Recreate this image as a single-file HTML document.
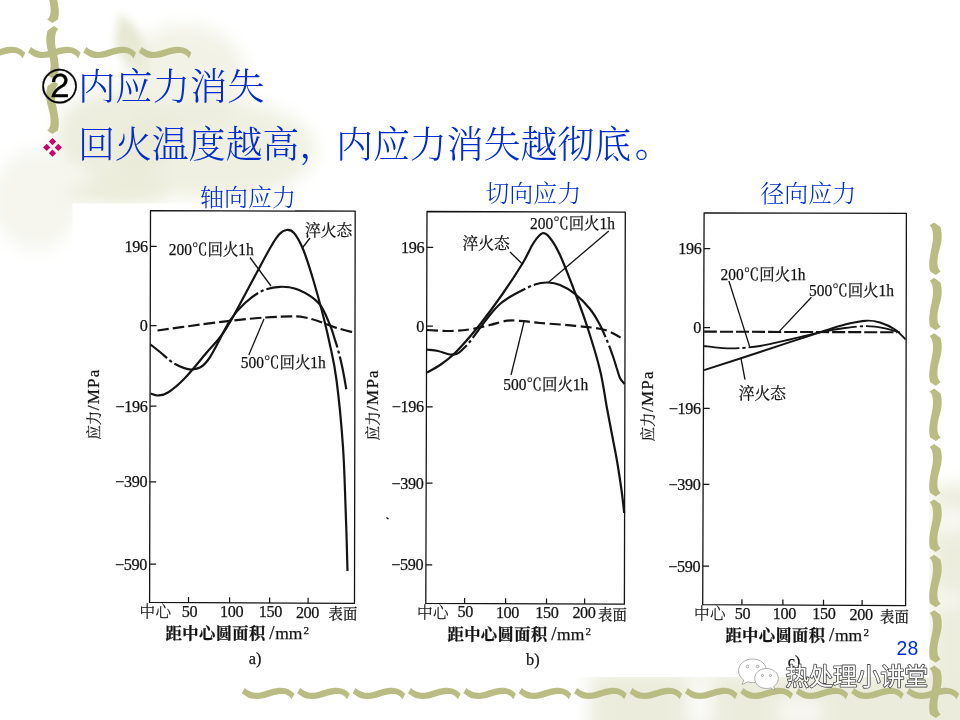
<!DOCTYPE html>
<html lang="zh"><head><meta charset="utf-8"><title>内应力消失</title>
<style>html,body{margin:0;padding:0;background:#fff;width:960px;height:720px;overflow:hidden}svg{display:block}.s{font-family:"Liberation Serif","Noto Serif CJK SC",serif}.n{font-family:"Liberation Sans","Noto Sans CJK SC",sans-serif}.g{fill:#141414;font-family:"Liberation Serif","Noto Serif CJK SC",serif;font-size:15.8px;stroke:#141414;stroke-width:.25px}.d{font-size:16.2px;letter-spacing:-.35px}.b{fill:#002ecc;font-family:"Liberation Serif","Noto Serif CJK SC",serif}</style></head><body>
<svg width="960" height="720" viewBox="0 0 960 720">
<defs>
<filter id="bl" x="-30%" y="-30%" width="160%" height="160%"><feGaussianBlur stdDeviation="9"/></filter>
<filter id="bl2" x="-30%" y="-30%" width="160%" height="160%"><feGaussianBlur stdDeviation="4"/></filter>
<path id="vh" d="M0,1.3 L3,-4 C6,-1.5 9,0.2 12.7,0.7 C20,1.5 28,-3.5 37.3,-4.3 C42,-4.6 46,-3.5 49.3,-1.3 L52.7,1.7 L50,7.3 C49,5.5 48,4.5 46.7,3.7 C44,2 42,1.8 39.3,2 C36,2.3 33,3 29.3,4 C24,5.8 20,7 14.7,7 C11,7 8,6.3 6,5.3 Z" fill="#b9bd84"/>
<path id="vv" d="M0.2,0 L6.4,4.6 C7.5,8 8,12 7.6,17 C7.2,22 5,28 4,33 C3.2,38 3.2,42 4,45 C4.8,47 5.8,48.2 6.8,48.8 L1.8,52.5 L-3.8,49 C-4.8,46 -5,42 -4.6,38 C-4,32 -2.5,26 -1.4,20 C-0.8,15 -0.8,10 -2,6.5 C-2.6,5 -3.4,3.8 -4.4,2.9 Z" fill="#b9bd84"/>
</defs>
<g filter="url(#bl2)" fill="#e3e5cb">
<path d="M119,14 C136,22 152,45 148,72 C134,74 119,60 115,40 Z" opacity=".85"/>
</g>
<g filter="url(#bl)" fill="#e2e4ca">
<ellipse cx="115" cy="135" rx="60" ry="45" opacity=".62"/>
<ellipse cx="215" cy="150" rx="100" ry="50" fill="#e9ebd7" opacity=".75"/>
<ellipse cx="36" cy="200" rx="45" ry="50" fill="#efefe2" opacity=".55"/>
<ellipse cx="185" cy="75" rx="60" ry="50" fill="#eceddd" opacity=".7"/>
<ellipse cx="120" cy="192" rx="50" ry="14" opacity=".7"/>
</g>
<g filter="url(#bl)">
<rect x="590" y="672" width="400" height="70" fill="#ebecdc"/>
<rect x="932" y="485" width="60" height="250" fill="#ebecdc"/>
<ellipse cx="700" cy="705" rx="14" ry="30" fill="#fff" opacity=".8"/>
<ellipse cx="800" cy="712" rx="25" ry="14" fill="#fff" opacity=".7"/>
<ellipse cx="952" cy="520" rx="14" ry="14" fill="#fff" opacity=".8"/>
<ellipse cx="950" cy="600" rx="12" ry="10" fill="#fff" opacity=".7"/>
</g>
<g>
<use href="#vh" x="-27.4" y="51.1"/>
<use href="#vh" x="28.0" y="51.1"/>
<use href="#vh" x="83.4" y="51.1"/>
<use href="#vh" x="138.8" y="51.1"/>
<use href="#vv" transform="translate(54,-29.4) scale(-1,1)"/>
<use href="#vv" transform="translate(54,26.0) scale(-1,1)"/>
<use href="#vv" transform="translate(54,81.4) scale(-1,1)"/>
<use href="#vh" x="241.7" y="692"/>
<use href="#vh" x="297.1" y="692"/>
<use href="#vh" x="352.5" y="692"/>
<use href="#vh" x="407.9" y="692"/>
<use href="#vh" x="463.3" y="692"/>
<use href="#vh" x="518.7" y="692"/>
<use href="#vh" x="574.1" y="692"/>
<use href="#vh" x="629.5" y="692"/>
<use href="#vh" x="684.9" y="692"/>
<use href="#vh" x="740.3" y="692"/>
<use href="#vh" x="795.7" y="692"/>
<use href="#vh" x="851.1" y="692"/>
<use href="#vh" x="906.5" y="692"/>
<use href="#vh" x="961.9" y="692"/>
<use href="#vv" x="934" y="222.4"/>
<use href="#vv" x="934" y="277.8"/>
<use href="#vv" x="934" y="333.2"/>
<use href="#vv" x="934" y="388.6"/>
<use href="#vv" x="934" y="444.0"/>
<use href="#vv" x="934" y="499.4"/>
<use href="#vv" x="934" y="554.8"/>
<use href="#vv" x="934" y="610.2"/>
<use href="#vv" x="934" y="665.6"/>
<use href="#vv" x="934" y="721.0"/>
</g>
<rect x="72.5" y="203.5" width="856.5" height="473.5" fill="#fff"/>
<text x="41.2" y="100.3" font-size="37.3" class="s" fill="#000"><tspan font-family="Liberation Sans,IPAGothic,sans-serif" stroke="#000" stroke-width=".25" font-size="36.6">②</tspan><tspan fill="#002ecc" font-weight="300" dx=".3">内应力消失</tspan></text>
<path fill="#cc0066" d="M52.5,138 l3.6,3.6 l-3.6,3.6 l-3.6,-3.6z M52.5,149.6 l3.6,3.6 l-3.6,3.6 l-3.6,-3.6z M46.7,143.8 l3.6,3.6 l-3.6,3.6 l-3.6,-3.6z M58.3,143.8 l3.6,3.6 l-3.6,3.6 l-3.6,-3.6z"/>
<text x="78" y="158.3" font-size="37" class="b" font-weight="300" letter-spacing="-.13">回火温度越高，内应力消失越彻底<tspan dx="3.6" dy="-1">。</tspan></text>
<text x="200" y="205.6" font-size="24" class="b" font-weight="300">轴向应力</text>
<text x="485.2" y="201.5" font-size="24" class="b" font-weight="300">切向应力</text>
<text x="760.3" y="201.5" font-size="24" class="b" font-weight="300">径向应力</text>
<g fill="none" stroke="#141414">
<path d="M150.5,210.6 L355.2,211.2 L354.5,603.4 L149.6,602.4 Z" stroke-width="1.3" stroke-linejoin="round"/>
<path d="M150.4,246.3 h6.3 M150.2,325.5 h6.3 M150.1,406.2 h6.3 M149.9,481.9 h6.3 M149.7,564.2 h6.3 M188.5,602.6 v-5.5 M229.6,602.8 v-5.5 M269.6,603.0 v-5.5 M308.1,603.2 v-5.5 " stroke-width="1.25"/>
</g>
<text class="g d" x="147.8" y="251.8" text-anchor="end">196</text>
<text class="g d" x="147.6" y="331.0" text-anchor="end">0</text>
<text class="g d" x="147.5" y="411.8" text-anchor="end">−196</text>
<text class="g d" x="147.3" y="487.4" text-anchor="end">−390</text>
<text class="g d" x="147.1" y="569.8" text-anchor="end">−590</text>
<text class="g d" x="189.4" y="616.9" text-anchor="middle">50</text>
<text class="g d" x="231.6" y="617.1" text-anchor="middle">100</text>
<text class="g d" x="270.3" y="617.3" text-anchor="middle">150</text>
<text class="g d" x="307.5" y="617.5" text-anchor="middle">200</text>
<text class="g" x="139.6" y="617.4" style="font-weight:300;font-size:15.6px;letter-spacing:.4px">中心</text>
<text class="g" x="328.6" y="619.4" style="font-size:14.4px">表面</text>
<text class="g" x="165.6" y="639.3"><tspan font-weight="bold" style="font-size:16.3px;letter-spacing:.4px">距中心圆面积</tspan><tspan dx="3.6" style="font-size:19px;">/</tspan><tspan dx=".6" style="font-size:17.5px;">mm</tspan><tspan dy="-5" dx="1.2" style="font-size:11px">2</tspan></text>
<text class="g" x="255.0" y="664.2" text-anchor="middle" style="font-size:16.3px">a)</text>
<text class="g" transform="translate(98.8,439.6) rotate(-90)"><tspan style="font-size:14.4px">应力</tspan><tspan style="font-size:17px;letter-spacing:1.2px" dx=".6">/MPa</tspan></text>
<path d="M150.5,393.5 C151.8,393.8 155.1,395.7 158.0,395.5 C160.9,395.3 163.5,395.4 168.0,392.5 C172.5,389.6 178.6,384.6 185.0,378.0 C191.4,371.4 200.6,359.7 206.3,353.0 C212.1,346.3 215.4,343.4 219.5,338.0 C223.6,332.6 224.9,331.2 231.0,320.5 C237.1,309.8 249.4,286.2 256.0,274.0 C262.6,261.8 266.8,253.7 270.7,247.0 C274.6,240.3 276.8,236.8 279.5,234.0 C282.2,231.2 284.4,230.2 286.8,230.0 C289.2,229.8 291.2,229.7 294.0,233.0 C296.8,236.3 300.3,242.5 303.4,250.0 C306.5,257.5 309.6,267.7 312.7,278.0 C315.8,288.3 319.3,300.8 322.2,312.0 C325.1,323.2 327.6,333.7 330.0,345.0 C332.4,356.3 334.3,363.0 336.5,380.0 C338.7,397.0 341.4,423.7 343.0,447.0 C344.6,470.3 345.2,499.3 346.0,520.0 C346.8,540.7 347.2,562.5 347.5,571.0" fill="none" stroke="#141414" stroke-width="2.2" stroke-linecap="butt"/>
<path d="M150.5,344.5 C152.1,345.8 155.9,348.8 160.0,352.0 C164.1,355.2 169.6,361.1 175.0,364.0 C180.4,366.9 187.0,370.2 192.5,369.5 C198.0,368.8 201.8,368.2 208.0,360.0 C214.2,351.8 223.8,330.0 230.0,320.5 C236.2,311.0 239.7,307.9 245.0,303.0 C250.3,298.1 256.2,293.7 262.0,291.0 C267.8,288.3 273.8,287.0 280.0,286.8 C286.2,286.6 292.5,287.2 299.0,290.0 C305.5,292.8 313.8,297.7 319.0,303.5 C324.2,309.3 327.3,318.9 330.0,325.0 C332.7,331.1 333.6,335.7 335.0,340.0 C336.4,344.3 337.1,346.3 338.3,351.0 C339.6,355.7 341.2,361.9 342.5,368.3 C343.8,374.7 345.7,385.7 346.3,389.2" fill="none" stroke="#141414" stroke-width="2.2" stroke-linecap="butt" stroke-dasharray="21.4 3.0 3.2 3.0 122.9 3.0 3.2 3.0 105.8 3.0 3.2 3.0 38.3"/>
<path d="M157.5,330.5 C162.9,329.8 177.9,327.6 190.0,326.0 C202.1,324.4 217.5,322.2 230.0,320.8 C242.5,319.4 254.8,318.2 265.0,317.5 C275.2,316.8 284.8,316.4 291.5,316.4 C298.2,316.4 300.6,316.7 305.0,317.5 C309.4,318.3 312.9,319.3 318.0,321.0 C323.1,322.7 329.6,325.7 335.6,327.6 C341.6,329.5 350.9,331.7 354.0,332.5" fill="none" stroke="#141414" stroke-width="2.2" stroke-linecap="butt" stroke-dasharray="11.5 4"/>
<path d="M310.0,238.0 L302.7,247.5" stroke="#141414" stroke-width="1.3"/>
<path d="M250.0,257.5 L271.0,286.0" stroke="#141414" stroke-width="1.3"/>
<path d="M264.0,319.0 L248.8,355.0" stroke="#141414" stroke-width="1.3"/>
<text class="g" x="305.0" y="236.0">淬火态</text>
<text class="g" x="168.8" y="255.3" textLength="85" lengthAdjust="spacingAndGlyphs">200℃回火1h</text>
<text class="g" x="240.8" y="368.3" textLength="85" lengthAdjust="spacingAndGlyphs">500℃回火1h</text>
<g fill="none" stroke="#141414">
<path d="M427.0,211.5 L625.3,212.2 L624.4,604.2 L425.8,603.4 Z" stroke-width="1.3" stroke-linejoin="round"/>
<path d="M426.9,247.4 h6.3 M426.6,326.1 h6.3 M426.4,406.9 h6.3 M426.2,483.2 h6.3 M425.9,564.9 h6.3 M464.6,603.6 v-5.5 M505.6,603.7 v-5.5 M546.5,603.9 v-5.5 M584.6,604.0 v-5.5 " stroke-width="1.25"/>
</g>
<text class="g d" x="424.3" y="252.9" text-anchor="end">196</text>
<text class="g d" x="424.0" y="331.6" text-anchor="end">0</text>
<text class="g d" x="423.8" y="412.4" text-anchor="end">−196</text>
<text class="g d" x="423.6" y="488.7" text-anchor="end">−390</text>
<text class="g d" x="423.3" y="570.4" text-anchor="end">−590</text>
<text class="g d" x="465.3" y="617.4" text-anchor="middle">50</text>
<text class="g d" x="507.5" y="617.5" text-anchor="middle">100</text>
<text class="g d" x="546.9" y="617.7" text-anchor="middle">150</text>
<text class="g d" x="584.0" y="617.8" text-anchor="middle">200</text>
<text class="g" x="416.9" y="617.9" style="font-weight:300;font-size:15.6px;letter-spacing:.4px">中心</text>
<text class="g" x="598.1" y="619.7" style="font-size:14.4px">表面</text>
<text class="g" x="447.5" y="639.7"><tspan font-weight="bold" style="font-size:16.3px;letter-spacing:.4px">距中心圆面积</tspan><tspan dx="3.6" style="font-size:19px;">/</tspan><tspan dx=".6" style="font-size:17.5px;">mm</tspan><tspan dy="-5" dx="1.2" style="font-size:11px">2</tspan></text>
<text class="g" x="532.8" y="664.9" text-anchor="middle" style="font-size:16.3px">b)</text>
<text class="g" transform="translate(377.8,440.2) rotate(-90)"><tspan style="font-size:14.4px">应力</tspan><tspan style="font-size:17px;letter-spacing:1.2px" dx=".6">/MPa</tspan></text>
<path d="M427.0,372.5 C429.2,371.2 435.3,368.2 440.0,365.0 C444.7,361.8 448.8,359.2 455.0,353.0 C461.2,346.8 469.6,337.3 477.5,327.5 C485.4,317.7 495.0,304.7 502.5,294.0 C510.0,283.3 517.3,272.0 522.5,263.5 C527.7,255.0 530.2,248.0 533.5,243.0 C536.8,238.0 539.8,234.1 542.5,233.3 C545.2,232.5 547.1,234.4 550.0,238.0 C552.9,241.6 555.8,245.9 560.0,255.0 C564.2,264.1 570.4,280.4 575.0,292.5 C579.6,304.6 583.3,314.6 587.5,327.5 C591.7,340.4 596.8,356.8 600.0,370.0 C603.2,383.2 604.7,395.7 606.7,406.7 C608.8,417.7 610.5,426.8 612.3,436.0 C614.0,445.2 615.7,453.0 617.2,462.0 C618.7,471.0 620.3,481.5 621.5,490.0 C622.7,498.5 623.8,509.2 624.2,513.0" fill="none" stroke="#141414" stroke-width="2.2" stroke-linecap="butt"/>
<path d="M427.0,349.5 C428.8,349.8 434.2,350.2 438.0,351.0 C441.8,351.8 446.8,354.1 450.0,354.5 C453.2,354.9 455.3,354.4 457.5,353.5 C459.7,352.6 461.1,350.8 463.0,349.0 C464.9,347.2 466.3,345.9 468.8,343.0 C471.2,340.1 474.4,335.7 477.5,331.5 C480.6,327.3 483.8,322.6 487.5,318.0 C491.2,313.4 495.4,308.0 500.0,304.0 C504.6,300.0 509.2,297.2 515.0,294.0 C520.8,290.8 529.6,286.4 535.0,284.5 C540.4,282.6 543.3,282.4 547.5,282.5 C551.7,282.6 555.4,283.1 560.0,285.0 C564.6,286.9 570.0,289.8 575.0,293.8 C580.0,297.8 585.8,303.8 590.0,309.0 C594.2,314.2 597.0,319.3 600.0,325.0 C603.0,330.7 605.9,338.0 608.0,343.0 C610.1,348.0 611.0,350.8 612.5,355.0 C614.0,359.2 615.5,364.2 616.7,368.0 C618.0,371.8 618.7,375.3 620.0,378.0 C621.3,380.7 623.8,383.0 624.5,384.0" fill="none" stroke="#141414" stroke-width="2.2" stroke-linecap="butt" stroke-dasharray="44.0 3.0 3.2 3.0 73.2 3.0 3.2 3.0 97.7 3.0 3.2 3.0 47.1"/>
<path d="M427.0,330.0 C431.0,330.2 443.8,331.1 451.0,331.0 C458.2,330.9 463.5,330.3 470.0,329.3 C476.5,328.3 483.8,326.4 490.0,325.0 C496.2,323.6 501.9,321.3 507.5,320.7 C513.1,320.1 518.4,320.8 523.8,321.2 C529.2,321.6 531.5,322.2 540.0,323.0 C548.5,323.8 564.2,324.6 575.0,325.8 C585.8,327.0 596.8,327.6 605.0,330.0 C613.2,332.4 621.2,338.3 624.5,340.0" fill="none" stroke="#141414" stroke-width="2.2" stroke-linecap="butt" stroke-dasharray="11 4.5"/>
<path d="M510.0,252.0 L521.8,263.5" stroke="#141414" stroke-width="1.3"/>
<path d="M608.8,231.0 L548.8,282.0" stroke="#141414" stroke-width="1.3"/>
<path d="M524.0,322.0 L511.0,375.0" stroke="#141414" stroke-width="1.3"/>
<text class="g" x="462.5" y="249.0">淬火态</text>
<text class="g" x="530.0" y="229.3" textLength="85" lengthAdjust="spacingAndGlyphs">200℃回火1h</text>
<text class="g" x="503.3" y="390.3" textLength="85" lengthAdjust="spacingAndGlyphs">500℃回火1h</text>
<path d="M386.5,517.5 l2,1.5" stroke="#141414" stroke-width="1.5"/>
<g fill="none" stroke="#141414">
<path d="M704.1,212.8 L906.4,213.4 L905.6,605.7 L702.7,604.6 Z" stroke-width="1.3" stroke-linejoin="round"/>
<path d="M704.0,248.6 h6.3 M703.7,327.6 h6.3 M703.4,408.4 h6.3 M703.1,484.4 h6.3 M702.8,566.2 h6.3 M741.9,604.8 v-5.5 M782.9,605.0 v-5.5 M823.5,605.3 v-5.5 M862.1,605.5 v-5.5 " stroke-width="1.25"/>
</g>
<text class="g d" x="701.4" y="254.1" text-anchor="end">196</text>
<text class="g d" x="701.1" y="333.1" text-anchor="end">0</text>
<text class="g d" x="700.8" y="413.9" text-anchor="end">−196</text>
<text class="g d" x="700.5" y="489.9" text-anchor="end">−390</text>
<text class="g d" x="700.2" y="571.7" text-anchor="end">−590</text>
<text class="g d" x="742.6" y="618.9" text-anchor="middle">50</text>
<text class="g d" x="784.4" y="619.1" text-anchor="middle">100</text>
<text class="g d" x="823.8" y="619.4" text-anchor="middle">150</text>
<text class="g d" x="861.2" y="619.6" text-anchor="middle">200</text>
<text class="g" x="694.1" y="619.4" style="font-weight:300;font-size:15.6px;letter-spacing:.4px">中心</text>
<text class="g" x="880.0" y="621.5" style="font-size:14.4px">表面</text>
<text class="g" x="725.4" y="641.0"><tspan font-weight="bold" style="font-size:16.3px;letter-spacing:.4px">距中心圆面积</tspan><tspan dx="3.6" style="font-size:19px;">/</tspan><tspan dx=".6" style="font-size:17.5px;">mm</tspan><tspan dy="-5" dx="1.2" style="font-size:11px">2</tspan></text>
<text class="g" x="794.0" y="666.8" text-anchor="middle" style="font-size:16.3px">c)</text>
<text class="g" transform="translate(652.8,441.3) rotate(-90)"><tspan style="font-size:14.4px">应力</tspan><tspan style="font-size:17px;letter-spacing:1.2px" dx=".6">/MPa</tspan></text>
<path d="M704.1,370.2 C713.4,367.2 740.6,358.4 760.0,352.0 C779.4,345.6 806.4,336.6 820.6,332.0 C834.8,327.4 837.4,326.4 845.0,324.5 C852.6,322.6 860.6,321.0 866.4,320.7 C872.2,320.4 875.2,321.0 880.0,322.5 C884.8,324.0 890.7,326.7 895.0,329.5 C899.3,332.3 903.8,337.8 905.6,339.5" fill="none" stroke="#141414" stroke-width="1.9" stroke-linecap="butt"/>
<path d="M704.1,346.0 C706.8,346.3 714.9,347.4 720.0,347.8 C725.1,348.2 728.3,348.7 735.0,348.4 C741.7,348.1 750.8,347.5 760.0,346.0 C769.2,344.5 780.0,341.8 790.0,339.5 C800.0,337.2 810.8,334.2 820.0,332.3 C829.2,330.4 837.3,329.0 845.0,328.0 C852.7,327.0 859.7,326.1 866.4,326.2 C873.1,326.2 879.4,327.2 885.0,328.3 C890.6,329.4 897.5,331.8 900.0,332.5" fill="none" stroke="#141414" stroke-width="1.8" stroke-linecap="butt" stroke-dasharray="35.5 3.0 3.2 3.0 110.2 3.0 3.2 3.0 39.8"/>
<path d="M704.1,331.6 C720.1,331.7 767.9,331.9 800.0,332.0 C832.1,332.1 880.8,332.2 897.0,332.3" fill="none" stroke="#141414" stroke-width="2.1" stroke-linecap="butt" stroke-dasharray="13 3"/>
<path d="M728.9,281.0 L749.7,346.7" stroke="#141414" stroke-width="1.3"/>
<path d="M811.4,297.2 L779.3,331.4" stroke="#141414" stroke-width="1.3"/>
<path d="M741.0,358.3 L745.0,379.7" stroke="#141414" stroke-width="1.3"/>
<text class="g" x="720.6" y="279.6" textLength="85" lengthAdjust="spacingAndGlyphs">200℃回火1h</text>
<text class="g" x="809.0" y="295.6" textLength="85" lengthAdjust="spacingAndGlyphs">500℃回火1h</text>
<text class="g" x="738.7" y="398.6">淬火态</text>
<text x="896.6" y="654.9" font-size="19.4" class="n" fill="#002ecc">28</text>
<g fill="#fff" stroke="#9a9a9a" stroke-width="0.8">
<path d="M752.5,659 c-8,0 -14,5.2 -14,11.8 c0,3.8 2,7 5.2,9.2 l-1.6,4.6 l5.6,-2.8 c1.5,0.4 3.1,0.7 4.8,0.7 c8,0 14,-5.2 14,-11.7 c0,-6.6 -6,-11.8 -14,-11.8z"/>
<path d="M766.5,668.5 c-6.6,0 -11.8,4.4 -11.8,10 c0,5.6 5.2,10 11.8,10 c1.4,0 2.7,-0.2 4,-0.6 l4.4,2.4 l-1.2,-3.8 c2.8,-1.8 4.6,-4.7 4.6,-8 c0,-5.6 -5.2,-10 -11.8,-10z"/>
<circle cx="747.5" cy="666.5" r="1.3"/><circle cx="757.5" cy="666.5" r="1.3"/><circle cx="762.5" cy="675.5" r="1.1"/><circle cx="770.5" cy="675.5" r="1.1"/>
</g>
<text x="785.4" y="685" font-size="23.8" class="n" fill="#fff" stroke="#4a4a4a" stroke-width="1.7" stroke-linejoin="round" paint-order="stroke" style="paint-order:stroke">热处理小讲堂</text>
</svg></body></html>
